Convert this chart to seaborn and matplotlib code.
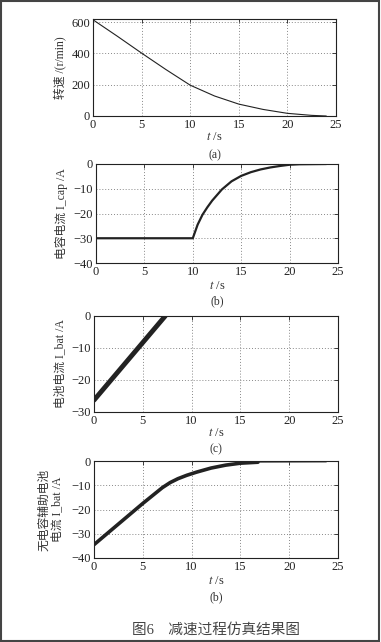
import numpy as np
import pandas as pd
import matplotlib
matplotlib.use("Agg")
import matplotlib.pyplot as plt
import seaborn as sns
from matplotlib.patches import Rectangle

# ---- data ----
t_speed = [0, 2.5, 5, 7.5, 10, 12.5, 15, 17.5, 20, 22.5, 24]
speed = [615, 510, 402, 297, 197, 128, 76, 42, 17, 4, 0]

t_cap = [0, 10, 10.5, 11, 11.5, 12, 13, 14, 15, 16, 17, 18, 19, 20, 21, 23.8]
i_cap = [-30, -30, -24.5, -20.5, -17.5, -14.8, -10.3, -7.0, -4.8, -3.3, -2.2, -1.4, -0.8, -0.3, -0.1, 0]

t_bat = [0, 7.3, 23.7]
i_bat = [-26.3, 0.0, 0.0]

t_nocap = [0, 2.5, 5, 7, 7.8, 8.6, 9.5, 10.5, 12, 13.5, 15, 16.8, 23.8]
i_nocap = [-34.5, -26.0, -17.5, -11.0, -8.9, -7.3, -5.9, -4.6, -2.9, -1.7, -0.9, -0.5, -0.4]

x_ticks = [0, 5, 10, 15, 20, 25]
ylabels = ["转速 /(r/min)", "电容电流 I_cap /A", "电池电流 I_bat /A", "无电容辅助电池\n电流 I_bat /A"]
sub_labels = ["(a)", "(b)", "(c)", "(b)"]
caption = "图6    减速过程仿真结果图"

sns.set_style("white")
plt.rcParams["font.family"] = ["Liberation Serif", "Noto Sans CJK SC"]
plt.rcParams["mathtext.fontset"] = "stix"
CJK = ["Liberation Serif", "Noto Sans CJK SC"]

W, H = 381, 642
fig = plt.figure(figsize=(W / 100, H / 100), dpi=100)

# axes boxes in pixels: left, right, top, bottom
boxes = [(93, 336, 19, 116), (96, 338, 164, 263), (94, 338, 316, 412), (94, 338, 461, 558)]
axes = []
for l, r, t, b in boxes:
    axes.append(fig.add_axes([l / W, 1 - b / H, (r - l) / W, (b - t) / H]))

line_c = "#222222"
sns.lineplot(x=t_speed, y=speed, ax=axes[0], color=line_c, lw=0.8)
sns.lineplot(x=t_cap, y=i_cap, ax=axes[1], color=line_c, lw=1.6)

sns.lineplot(x=t_bat, y=i_bat, ax=axes[2], color="#555555", lw=0.8)
sns.lineplot(x=t_bat[:2], y=i_bat[:2], ax=axes[2], color=line_c, lw=3.5)

sns.lineplot(x=t_nocap, y=i_nocap, ax=axes[3], color="#555555", lw=0.8)
sns.lineplot(x=t_nocap[:-1], y=i_nocap[:-1], ax=axes[3], color=line_c, lw=2.6)

ylims = [(0, 620), (-40, 0), (-30, 0), (-40, 0)]
yticks = [[0, 200, 400, 600], [-40, -30, -20, -10, 0], [-30, -20, -10, 0], [-40, -30, -20, -10, 0]]
sub_y = [155, 301, 449, 597]
xlab_y = [137, 286, 433, 581]
ylab_pad = [4, 4, 4, 6]

for i, ax in enumerate(axes):
    ax.set_xlim(0, 25)
    ax.set_ylim(*ylims[i])
    ax.set_xticks(x_ticks)
    ax.set_yticks(yticks[i])
    ax.grid(True, linestyle=(0, (1, 2)), color="#888888", lw=0.7)
    ax.tick_params(direction="in", length=3, width=0.6, top=True, right=True,
                   labelsize=9, pad=2, colors="#222222")
    for s in ax.spines.values():
        s.set_visible(True)
        s.set_color("#222222")
        s.set_linewidth(0.8)
    ax.set_xlabel("")
    ax.set_ylabel(ylabels[i], fontsize=8.5, family=CJK, color="#333333",
                  labelpad=ylab_pad[i], linespacing=1.1)
    fig.text(0.5 * (boxes[i][0] + boxes[i][1]) / W, 1 - xlab_y[i] / H, "$t$ /s",
             ha="center", va="center", fontsize=9, color="#333333")
    fig.text(0.5 * (boxes[i][0] + boxes[i][1]) / W, 1 - sub_y[i] / H, sub_labels[i],
             ha="center", va="center", fontsize=8.5, color="#333333")

fig.text(0.5 * (94 + 338) / W, 1 - 630 / H, caption, ha="center", va="center",
         fontsize=10.5, family=CJK, color="#444444")

fig.patches.append(Rectangle((0.002, 0.001), 0.994, 0.997, transform=fig.transFigure,
                             fill=False, edgecolor="#444444", lw=1.5))

fig.savefig("out.png", dpi=100)
